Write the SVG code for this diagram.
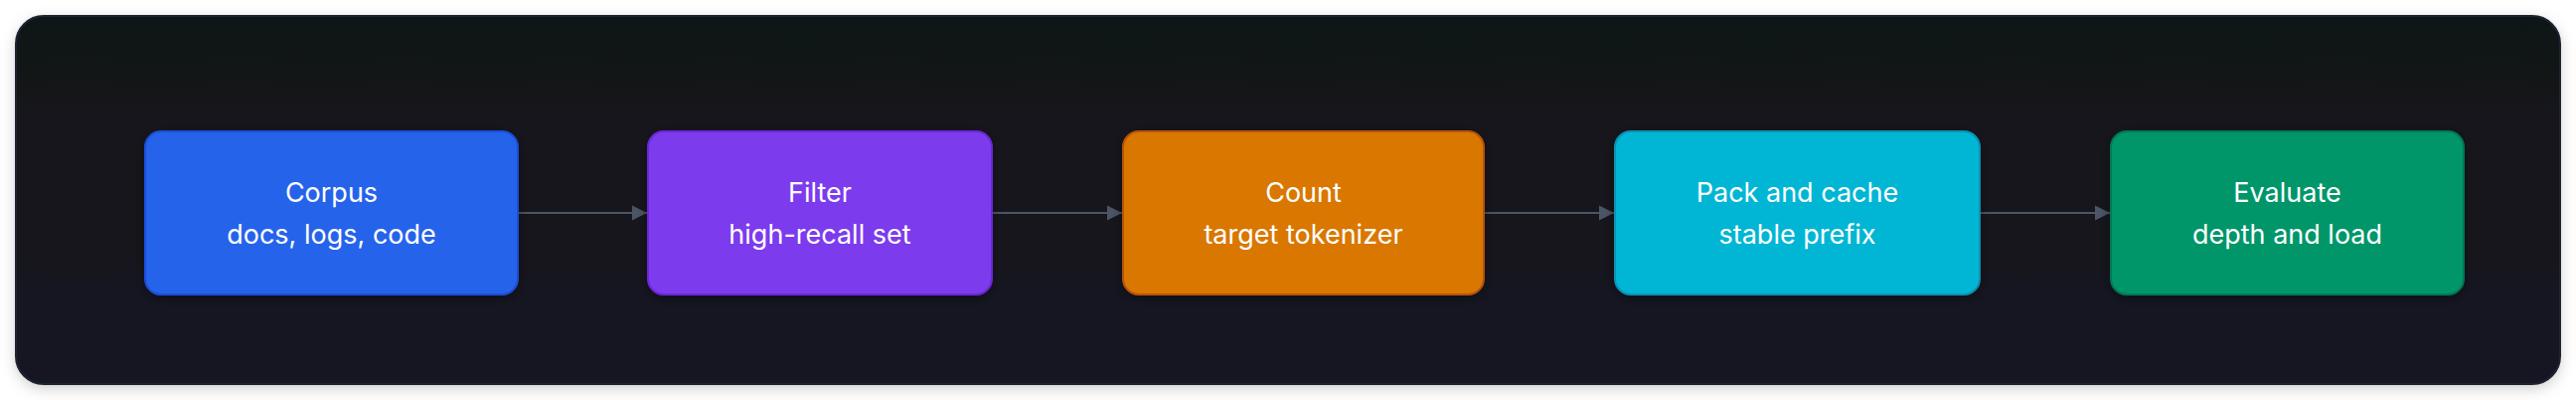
<svg xmlns="http://www.w3.org/2000/svg" width="2592" height="402" viewBox="0 0 2592 402">
  <defs>
    <linearGradient id="cardBg" x1="0" y1="0" x2="0" y2="1">
      <stop offset="0" stop-color="#111217"/>
      <stop offset="1" stop-color="#151623"/>
    </linearGradient>
    <filter id="cardShadow" x="-5%" y="-20%" width="110%" height="140%">
      <feDropShadow dx="0" dy="4" stdDeviation="7" flood-color="#000000" flood-opacity="0.18"/>
    </filter>
    <filter id="nodeShadow" x="-10%" y="-20%" width="120%" height="140%">
      <feDropShadow dx="0" dy="3" stdDeviation="6" flood-color="#000000" flood-opacity="0.35"/>
    </filter>
    <marker id="arrow" viewBox="0 0 10 10" refX="10" refY="5" markerWidth="15" markerHeight="16" markerUnits="userSpaceOnUse" orient="auto">
      <path d="M0,0 L10,5 L0,10 Z" fill="#4b5565"/>
    </marker>
    <style>
      .node rect { stroke-width: 2; filter: url(#nodeShadow); }
      .label { font-family: Inter, "Noto Sans", "Liberation Sans", sans-serif; font-size: 27px; fill: #ffffff; text-anchor: middle; }
      .edge { stroke: #4b5565; stroke-width: 2; fill: none; }
    </style>
  </defs>
  <rect width="2592" height="402" fill="#ffffff"/>
  <rect x="16" y="16" width="2560" height="370" rx="28" ry="28" fill="url(#cardBg)" stroke="#1f2533" stroke-width="2" filter="url(#cardShadow)"/>

  <g id="connectors">
    <line class="edge" x1="521" y1="214" x2="651" y2="214" marker-end="url(#arrow)"/>
    <line class="edge" x1="998" y1="214" x2="1129" y2="214" marker-end="url(#arrow)"/>
    <line class="edge" x1="1493" y1="214" x2="1624" y2="214" marker-end="url(#arrow)"/>
    <line class="edge" x1="1992" y1="214" x2="2123" y2="214" marker-end="url(#arrow)"/>
  </g>

  <g id="node-corpus" class="node">
    <rect x="146" y="132" width="375" height="164" rx="16" ry="16" fill="#2563eb" stroke="#1d4ed8"/>
    <text class="label" x="333.5" y="203">Corpus</text>
    <text class="label" x="333.5" y="245">docs, logs, code</text>
  </g>
  <g id="node-filter" class="node">
    <rect x="652" y="132" width="346" height="164" rx="16" ry="16" fill="#7c3aed" stroke="#6d28d9"/>
    <text class="label" x="825" y="203">Filter</text>
    <text class="label" x="825" y="245">high-recall set</text>
  </g>
  <g id="node-count" class="node">
    <rect x="1130" y="132" width="363" height="164" rx="16" ry="16" fill="#d97706" stroke="#b45309"/>
    <text class="label" x="1311.5" y="203">Count</text>
    <text class="label" x="1311.5" y="245">target tokenizer</text>
  </g>
  <g id="node-pack" class="node">
    <rect x="1625" y="132" width="367" height="164" rx="16" ry="16" fill="#06b6d4" stroke="#0891b2"/>
    <text class="label" x="1808.5" y="203">Pack and cache</text>
    <text class="label" x="1808.5" y="245">stable prefix</text>
  </g>
  <g id="node-evaluate" class="node">
    <rect x="2124" y="132" width="355" height="164" rx="16" ry="16" fill="#059669" stroke="#047857"/>
    <text class="label" x="2301.5" y="203">Evaluate</text>
    <text class="label" x="2301.5" y="245">depth and load</text>
  </g>
</svg>
